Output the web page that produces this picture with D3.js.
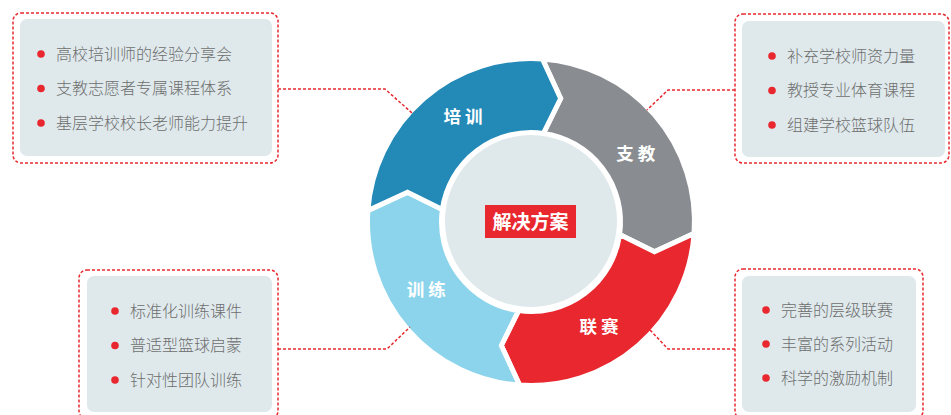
<!DOCTYPE html>
<html><head><meta charset="utf-8">
<script src="https://cdn.jsdelivr.net/npm/d3@7/dist/d3.min.js"></script>
<style>html,body{margin:0;padding:0;background:#fff;}svg{display:block;}</style>
</head><body><svg id="c" width="951" height="415"></svg>
<script>
// ---- data ----
const segments = ["支教", "联赛", "训练", "培训"];           // clockwise from top
const segmentColors = ["#898d91", "#e8282e", "#8cd4ec", "#2389b7"];
const centerLabel = "解决方案";
const itemsTL = ["高校培训师的经验分享会", "支教志愿者专属课程体系", "基层学校校长老师能力提升"];
const itemsTR = ["补充学校师资力量", "教授专业体育课程", "组建学校篮球队伍"];
const itemsBL = ["标准化训练课件", "普适型篮球启蒙", "针对性团队训练"];
const itemsBR = ["完善的层级联赛", "丰富的系列活动", "科学的激励机制"];

const svg = d3.select("#c");
const font = "'Noto Sans CJK SC','Noto Sans',sans-serif";
const cx = 531, cy = 222;
const R = 163.5, r0 = 89.5, rTip = 127, innerR = 86;
const deg = Math.PI / 180;
const ang = d3.scaleLinear().domain([0, segments.length]).range([4 * deg, 364 * deg]);
const innerShift = 4 * deg, tipShift = 9.5 * deg;
const pt = (a, r) => [cx + r * Math.sin(a), cy - r * Math.cos(a)];

// ---- ring segments ----
segments.forEach((name, i) => {
  const a0 = ang(i), a1 = ang(i + 1);
  const p = d3.path();
  const s = pt(a0, R);
  p.moveTo(s[0], s[1]);
  p.arc(cx, cy, R, a0 - Math.PI / 2, a1 - Math.PI / 2, false);
  const t1 = pt(a1 + tipShift, rTip); p.lineTo(t1[0], t1[1]);
  const i1 = pt(a1 + innerShift, r0); p.lineTo(i1[0], i1[1]);
  p.arc(cx, cy, r0, a1 + innerShift - Math.PI / 2, a0 + innerShift - Math.PI / 2, true);
  const t0 = pt(a0 + tipShift, rTip); p.lineTo(t0[0], t0[1]);
  p.closePath();
  svg.append("path").attr("d", p.toString())
    .attr("fill", segmentColors[i]).attr("stroke", "#fff").attr("stroke-width", 5)
    .attr("stroke-linejoin", "miter");
  const am = (a0 + a1) / 2 + 8 * deg;
  const lp = pt(am, 125);
  svg.append("text").attr("x", lp[0] + 2).attr("y", lp[1] + 6)
    .attr("text-anchor", "middle").attr("fill", "#fff")
    .attr("font-family", font).attr("font-weight", "bold").attr("font-size", 17.5)
    .attr("letter-spacing", 4).text(name);
});

// ---- inner circle + center label ----
svg.append("circle").attr("cx", cx).attr("cy", cy - 1).attr("r", innerR).attr("fill", "#dfe9ec");
svg.append("rect").attr("x", 485).attr("y", 205).attr("width", 91).attr("height", 33).attr("fill", "#e8282e");
svg.append("text").attr("x", 530.5).attr("y", 228.5).attr("text-anchor", "middle")
  .attr("fill", "#fff").attr("font-family", font).attr("font-weight", "bold")
  .attr("font-size", 19).text(centerLabel);

// ---- text boxes ----
const boxes = [
  {items: itemsTL, outer: [13, 13, 278, 163], fill: [20, 19, 272, 156], bx: 41, rows: [54, 123],
   conn: [[278, 89], [385, 89], [412, 113]]},
  {items: itemsTR, outer: [735, 14, 949, 163], fill: [742, 21, 945, 157], bx: 772, rows: [56, 125],
   conn: [[735, 90], [668, 90], [647, 110]]},
  {items: itemsBL, outer: [79, 270, 278, 419], fill: [87, 276, 272, 412], bx: 115, rows: [311, 380],
   conn: [[278, 349], [387, 349], [410, 327]]},
  {items: itemsBR, outer: [735, 269, 923, 419], fill: [742, 276, 916, 412], bx: 766, rows: [310, 378],
   conn: [[735, 349], [668, 349], [650, 330]]}
];
boxes.forEach(b => {
  const [ox0, oy0, ox1, oy1] = b.outer, [fx0, fy0, fx1, fy1] = b.fill;
  svg.append("rect").attr("x", fx0).attr("y", fy0).attr("width", fx1 - fx0).attr("height", fy1 - fy0)
    .attr("rx", 7).attr("fill", "#dfe9ec");
  svg.append("rect").attr("x", ox0).attr("y", oy0).attr("width", ox1 - ox0).attr("height", oy1 - oy0)
    .attr("rx", 8).attr("fill", "none").attr("stroke", "#e8282e").attr("stroke-width", 1.5)
    .attr("stroke-dasharray", "3,2");
  svg.append("path").attr("d", d3.line()(b.conn)).attr("fill", "none")
    .attr("stroke", "#e8282e").attr("stroke-width", 1.5).attr("stroke-dasharray", "3,2");
  const y = d3.scalePoint().domain(d3.range(b.items.length)).range(b.rows);
  b.items.forEach((t, k) => {
    svg.append("circle").attr("cx", b.bx).attr("cy", y(k)).attr("r", 3.8).attr("fill", "#e8282e");
    svg.append("text").attr("x", b.bx + 15).attr("y", y(k) + 5.8)
      .attr("fill", "#6e6e6e").attr("font-family", font).attr("font-weight", 300).attr("font-size", 16)
      .text(t);
  });
});
</script></body></html>
